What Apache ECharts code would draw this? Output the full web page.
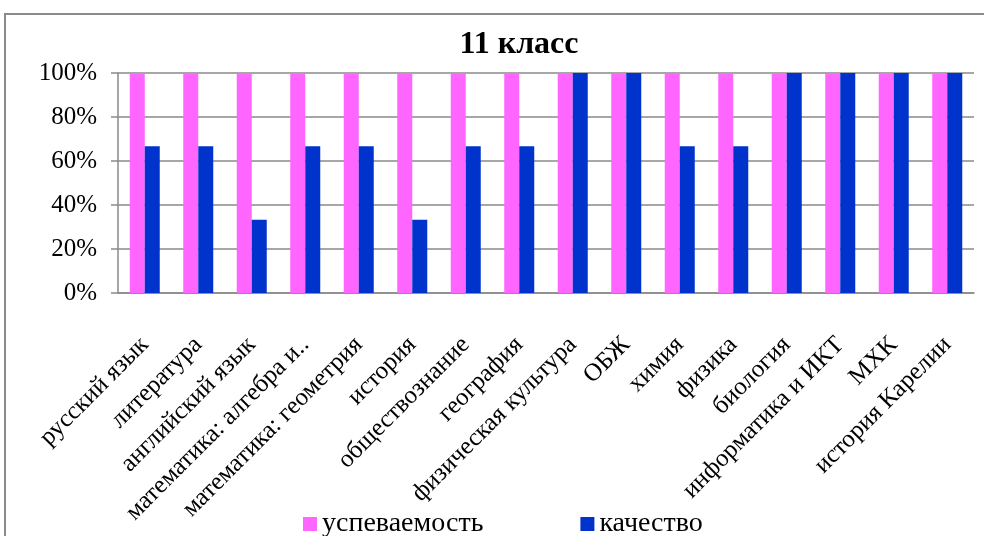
<!DOCTYPE html>
<html><head><meta charset="utf-8">
<script src="https://cdn.jsdelivr.net/npm/echarts@6/dist/echarts.min.js"></script>
<style>html,body{margin:0;padding:0;background:#fff}#c{width:984px;height:536px}</style>
</head><body><div id="c"></div>
<script>
const categories = ['русский язык','литература','английский язык','математика: алгебра и..','математика: геометрия','история','обществознание','география','физическая культура','ОБЖ','химия','физика','биология','информатика и ИКТ','МХК','история Карелии'];
const uspevaemost = [100,100,100,100,100,100,100,100,100,100,100,100,100,100,100,100];
const kachestvo = [66.7,66.7,33.3,66.7,66.7,33.3,66.7,66.7,100,100,66.7,66.7,100,100,100,100];
const yTicks = [0,20,40,60,80,100];
const F = 'Liberation Serif, Times New Roman, serif';
const chart = echarts.init(document.getElementById('c'));
chart.setOption({
  backgroundColor:'#fff',
  animation:false,
  title:{text:'11 класс',left:514,textAlign:'center',top:24,textStyle:{fontFamily:F,fontSize:32,fontWeight:'bold',color:'#000'}},
  graphic:[{type:'rect',shape:{x:5,y:14,width:1000,height:600},style:{fill:'none',stroke:'#8a8a8a',lineWidth:2},silent:true}],
  legend:{left:298,top:505,itemWidth:14,itemHeight:14,itemGap:97,icon:'rect',textStyle:{fontFamily:F,fontSize:28,color:'#000'},data:['успеваемость','качество']},
  grid:{left:118,right:10,top:73,bottom:243,containLabel:false},
  xAxis:{type:'category',data:categories,axisLine:{lineStyle:{color:'#8a8a8a',width:1.5}},axisTick:{length:6,lineStyle:{color:'#8a8a8a',width:1.5}},
    axisLabel:{rotate:45,interval:0,margin:48,fontFamily:F,fontSize:25,color:'#000'}},
  yAxis:{type:'value',min:0,max:100,interval:20,axisLine:{show:true,lineStyle:{color:'#8a8a8a',width:1.5}},axisTick:{show:true,length:7,lineStyle:{color:'#8a8a8a',width:1.5}},
    splitLine:{lineStyle:{color:'#8a8a8a',width:1.5}},
    axisLabel:{margin:21,fontFamily:F,fontSize:25,color:'#000',formatter:v=>yTicks.includes(v)?v+'%':''}},
  series:[
    {name:'успеваемость',type:'bar',data:uspevaemost,barWidth:15,barGap:'0%',itemStyle:{color:'#FF66FF'}},
    {name:'качество',type:'bar',data:kachestvo,barWidth:15,barGap:'0%',itemStyle:{color:'#0033CC'}}
  ]
});
</script></body></html>
